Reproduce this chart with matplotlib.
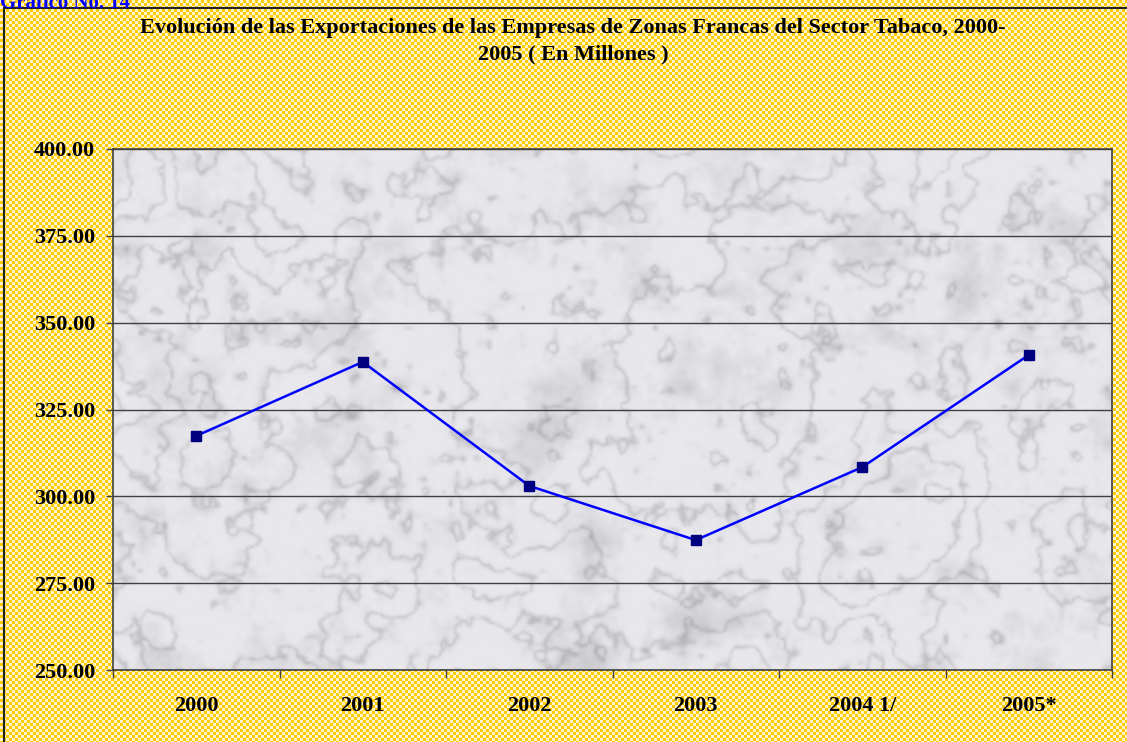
import numpy as np
import matplotlib.pyplot as plt
from matplotlib.patches import Rectangle

# data
years = ['2000', '2001', '2002', '2003', '2004 1/', '2005*']
exports = [317.4, 338.7, 303.0, 287.4, 308.4, 340.7]
y_ticks = [250, 275, 300, 325, 350, 375, 400]

title = ('Evolución de las Exportaciones de las Empresas de Zonas Francas del Sector Tabaco, 2000-\n'
         '2005 ( En Millones )')

plt.rcParams['font.family'] = ['Liberation Serif', 'DejaVu Serif']

W, H = 1127, 742
fig = plt.figure(figsize=(W / 100, H / 100), dpi=100)

# yellow checkered background
yy, xx = np.mgrid[0:H, 0:W]
checker = ((xx // 3) + (yy // 3)) % 2
gold = np.array([1.0, 0.80, 0.0])
white = np.array([1.0, 1.0, 1.0])
bg = np.where(checker[..., None] == 1, gold, white * 0.8 + gold * 0.2)
fig.figimage(bg, xo=0, yo=0, origin='upper', zorder=0)

# frame of the chart object
fig.patches.append(Rectangle((4 / W, -0.01), 1.2, 1 - 8 / H + 0.01, transform=fig.transFigure,
                             fill=False, edgecolor='#202020', linewidth=1.5, zorder=1))

fig.text(0, 1 + 7 / H, 'Gráfico No. 14', color='#0000ff', fontsize=15, fontweight='bold',
         ha='left', va='top', zorder=2)

fig.text(573 / W, 1 - 18 / H, title, ha='center', va='top', fontsize=16, fontweight='bold',
         linespacing=1.42, zorder=2)

ax = fig.add_axes([113 / W, 1 - 670 / H, (1112 - 113) / W, (670 - 149) / H])
ax.set_zorder(3)

# soft marble-like texture for the plot area (decorative only)
rng = np.random.default_rng(3)
th, tw = 260, 500


def smooth_noise(scales):
    out = np.zeros((th, tw))
    for scale, amp in scales:
        g = rng.standard_normal((int(th / tw * scale) + 2, scale + 2))
        gy = np.linspace(0, g.shape[0] - 1.001, th)
        gx = np.linspace(0, g.shape[1] - 1.001, tw)
        iy, ix = gy.astype(int), gx.astype(int)
        fy, fx = (gy - iy)[:, None], (gx - ix)[None, :]
        out += amp * (g[iy][:, ix] * (1 - fy) * (1 - fx) + g[iy + 1][:, ix] * fy * (1 - fx)
                      + g[iy][:, ix + 1] * (1 - fy) * fx + g[iy + 1][:, ix + 1] * fy * fx)
    return out


tex = smooth_noise([(10, 1.0), (24, 0.5), (60, 0.3), (150, 0.15)])
blot = smooth_noise([(20, 1.0), (70, 0.5), (200, 0.3)])
veins = np.abs(np.sin(tex * 2.5))
shade = 0.91 - 0.16 * np.exp(-veins / 0.2) - 0.04 * np.clip(blot, 0, None)
marble = np.clip(np.dstack([shade, shade, shade * 1.02]), 0, 1)
ax.imshow(marble, extent=(-0.5, len(years) - 0.5, 250, 400), aspect='auto', zorder=0,
          interpolation='bicubic')

x = np.arange(len(years))
ax.plot(x, exports, color='#0000ff', linewidth=1.8, marker='s', markersize=7,
        markerfacecolor='#000080', markeredgecolor='#000080', zorder=3)

ax.set_xlim(-0.5, len(years) - 0.5)
ax.set_ylim(250, 400)
ax.set_yticks(y_ticks)
ax.set_yticklabels([f'{v:.2f}' for v in y_ticks], fontsize=16, fontweight='bold')
ax.set_xticks(x)
ax.set_xticklabels(years, fontsize=16, fontweight='bold')
ax.tick_params(axis='x', length=0, pad=19)
ax.tick_params(axis='y', length=5, width=1, color='#404040', pad=8)
ax.set_xticks(np.arange(len(years) + 1) - 0.5, minor=True)
ax.tick_params(axis='x', which='minor', length=6, width=1, color='#404040')
ax.grid(axis='y', color='#404040', linewidth=1, zorder=1)
for s in ax.spines.values():
    s.set_color('#404040')
    s.set_linewidth(1.2)

fig.savefig('out.png', dpi=100)
